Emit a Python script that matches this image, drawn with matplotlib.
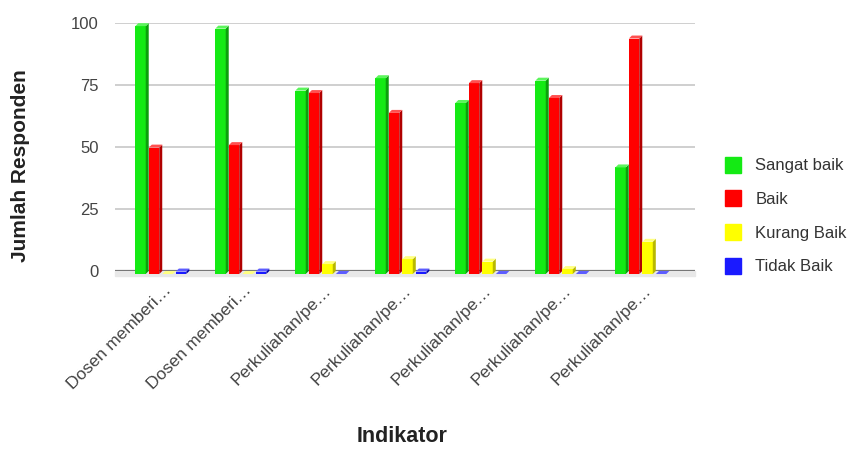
import numpy as np
import matplotlib.pyplot as plt
from matplotlib.patches import Polygon
from matplotlib.lines import Line2D
import matplotlib.transforms as mtransforms

plt.rcParams['font.family'] = ['Liberation Sans', 'DejaVu Sans']

indikator = ['Dosen memberi…', 'Dosen memberi…', 'Perkuliahan/pe…', 'Perkuliahan/pe…',
             'Perkuliahan/pe…', 'Perkuliahan/pe…', 'Perkuliahan/pe…']
series = ['Sangat baik', 'Baik', 'Kurang Baik', 'Tidak Baik']
sangat_baik = [100, 99, 74, 79, 69, 78, 43]
baik = [51, 52, 73, 65, 77, 71, 95]
kurang_baik = [0, 0, 4, 6, 5, 2, 13]
tidak_baik = [1, 1, 0, 1, 0, 0, 0]

front = ['#14ea14', '#ff0000', '#ffff00', '#1a1aff']
side = ['#0ca00c', '#b00000', '#b8b800', '#0000a8']
top = ['#5cf55c', '#ff5050', '#ffff80', '#5c5cff']

fig = plt.figure(figsize=(8.53, 4.54), dpi=100)
ax = fig.add_axes([0.135, 0.403, 0.68, 0.546])

x = np.arange(len(indikator))
w = 0.169        # slot per bar
fw = 0.13        # front face width
dx, dy = 0.0375, 1.2   # depth offset of the 3d look

for i, vals in enumerate([sangat_baik, baik, kurang_baik, tidak_baik]):
    pos = x + (i - 1.5) * w - (w - fw) / 2
    bars = ax.bar(pos, vals, width=fw, bottom=-dy, color=front[i],
                  zorder=3, clip_on=False)
    for b in bars:
        x0, y0 = b.get_x(), b.get_y()
        bw, bh = b.get_width(), b.get_height()
        x1, y1 = x0 + bw, y0 + bh
        ax.add_patch(Polygon([(x1, y0), (x1 + dx, y0 + dy), (x1 + dx, y1 + dy), (x1, y1)],
                             closed=True, facecolor=side[i], edgecolor='none',
                             zorder=3, clip_on=False))
        ax.add_patch(Polygon([(x0, y1), (x1, y1), (x1 + dx, y1 + dy), (x0 + dx, y1 + dy)],
                             closed=True, facecolor=top[i], edgecolor='none',
                             zorder=3, clip_on=False))

ax.set_xlim(-0.59, 6.66)
ax.set_ylim(0, 100)
ax.set_yticks([0, 25, 50, 75, 100])
for t in [25, 50, 75, 100]:
    ax.axhline(t, color='#cccccc', lw=1.3, zorder=1)
# floor of the chart
ax.axhspan(-2.0, 0, color='#e8e8e8', zorder=2, clip_on=False)
ax.axhline(0, color='#777777', lw=1.6, zorder=2)

for s in ax.spines.values():
    s.set_visible(False)
ax.tick_params(axis='both', length=0, labelsize=12, colors='#444444')
ax.tick_params(axis='y', pad=12)

ax.set_xticks(x)
offset = mtransforms.ScaledTranslation(1 / 100, -7 / 100, fig.dpi_scale_trans)
ax.set_xticklabels(indikator, rotation=45, ha='right', va='top', rotation_mode='anchor')
for lab in ax.get_xticklabels():
    lab.set_fontsize(12.5)
    lab.set_transform(lab.get_transform() + offset)

fig.text(0.024, 0.635, 'Jumlah Responden', fontsize=15, fontweight='bold', color='#222222',
         rotation=90, ha='center', va='center')
fig.text(0.471, 0.026, 'Indikator', fontsize=15.5, fontweight='bold', color='#222222', ha='center')

handles = [Line2D([], [], marker='s', ls='none', markersize=12, markerfacecolor=c,
                  markeredgecolor=c) for c in front]
fig.legend(handles, series, loc='upper left', bbox_to_anchor=(0.822, 0.684),
           frameon=False, fontsize=12, labelspacing=1.12, handletextpad=0.35,
           labelcolor='#333333')

fig.savefig('out.png', dpi=100)
